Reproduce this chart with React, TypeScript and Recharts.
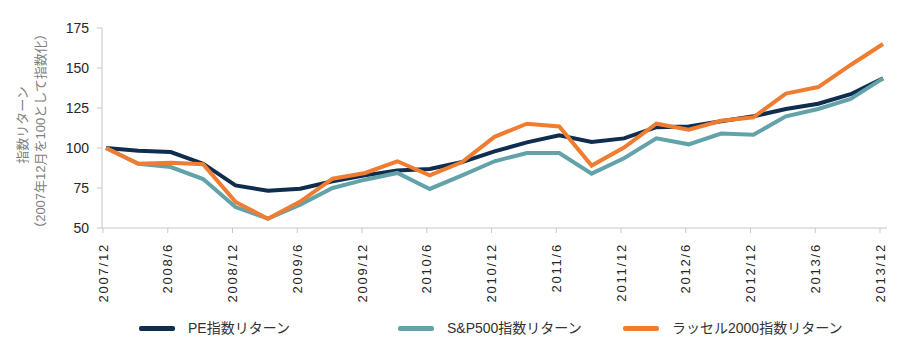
import React from "react";
import { LineChart, Line, XAxis, YAxis, Legend } from "recharts";

const FONT = "'Liberation Sans', 'Noto Sans CJK JP', sans-serif";

const quarters = [
  "2007/12", "2008/3", "2008/6", "2008/9", "2008/12", "2009/3", "2009/6", "2009/9",
  "2009/12", "2010/3", "2010/6", "2010/9", "2010/12", "2011/3", "2011/6", "2011/9",
  "2011/12", "2012/3", "2012/6", "2012/9", "2012/12", "2013/3", "2013/6", "2013/9",
  "2013/12",
];

const peIndex = [
  100, 98.3, 97.5, 90.2, 76.6, 73.3, 74.6, 79.2, 82.9, 86, 86.9, 91.2, 97.9, 103.5,
  107.9, 103.7, 106, 113, 113.5, 116.7, 119.8, 124.4, 127.7, 133.6, 143.5,
];

const sp500Index = [
  100, 90.2, 88.1, 80.6, 63.1, 55.8, 64.6, 75, 80.2, 84.4, 74.4, 82.9, 91.7, 96.9,
  96.9, 84, 93.6, 106, 102.3, 109, 108.3, 119.8, 124.4, 130.7, 143.5,
];

const russellIndex = [
  100, 90.2, 90.8, 89.8, 66.3, 55.8, 66.5, 80.8, 84.4, 91.7, 82.9, 91.2, 107, 115.2,
  113.5, 89, 100.3, 115.2, 111.5, 117, 119.2, 134, 138.1, 151.9, 165,
];

const yTicks = [50, 75, 100, 125, 150, 175];

const seriesNames = ["PE指数リターン", "S&P500指数リターン", "ラッセル2000指数リターン"];
const seriesColors = ["#0f2d4f", "#62a3a9", "#ef7d31"];

const data = quarters.map((q, i) => ({
  quarter: q,
  pe: peIndex[i],
  sp: sp500Index[i],
  russell: russellIndex[i],
}));

const XTick = (props: any) => {
  const { x, y, payload } = props;
  const tx = x - 3;
  return (
    <g>
      <line x1={tx} y1={y} x2={tx} y2={y + 5} stroke="#c8c8c8" strokeWidth={1} />
      <text
        transform={`translate(${tx},${y + 15}) rotate(-90)`}
        textAnchor="end"
        dominantBaseline="central"
        fontSize={13}
        letterSpacing={1.8}
        fill="#262626"
        fontFamily={FONT}
      >
        {payload.value}
      </text>
    </g>
  );
};

const YLabel = () => (
  <g fontFamily={FONT} fontSize={13} fill="#7f7f7f">
    <text transform="translate(22,125) rotate(-90)" textAnchor="middle" dominantBaseline="central">
      指数リターン
    </text>
    <text transform="translate(40,131) rotate(-90)" textAnchor="middle" dominantBaseline="central">
      （2007年12月を100として指数化）
    </text>
  </g>
);

const legendLeft = [139, 398, 623];

const renderLegend = () => (
  <div style={{ position: "relative", height: 55, fontFamily: FONT }}>
    {seriesNames.map((name, i) => (
      <div
        key={name}
        style={{
          position: "absolute",
          left: legendLeft[i],
          top: 21,
          display: "flex",
          alignItems: "center",
          whiteSpace: "nowrap",
        }}
      >
        <div
          style={{
            width: 36,
            height: 5,
            borderRadius: 2,
            background: seriesColors[i],
            marginRight: 13,
          }}
        />
        <span style={{ fontSize: 14, color: "#333333", lineHeight: "18px" }}>{name}</span>
      </div>
    ))}
  </div>
);

export default function App() {
  return (
    <div style={{ position: "absolute", left: 0, top: 0, background: "#fff" }}>
      <LineChart
        width={913}
        height={353}
        data={data}
        margin={{ top: 28, right: 26, left: 0, bottom: 0 }}
      >
        <XAxis
          dataKey="quarter"
          interval={1}
          height={70}
          padding={{ left: 4, right: 4 }}
          tickLine={false}
          tickSize={0}
          tickMargin={0}
          axisLine={{ stroke: "#c8c8c8" }}
          tick={<XTick />}
        />
        <YAxis
          width={102}
          domain={[50, 175]}
          ticks={yTicks}
          interval={0}
          tickSize={5}
          tickMargin={8}
          axisLine={{ stroke: "#c8c8c8" }}
          tickLine={{ stroke: "#c8c8c8" }}
          tick={{ fontSize: 14, fill: "#262626", fontFamily: FONT }}
          label={<YLabel />}
        />
        <Legend verticalAlign="bottom" height={55} content={renderLegend} />
        <Line
          dataKey="pe"
          name={seriesNames[0]}
          stroke={seriesColors[0]}
          strokeWidth={4}
          dot={false}
          type="linear"
          isAnimationActive={false}
        />
        <Line
          dataKey="sp"
          name={seriesNames[1]}
          stroke={seriesColors[1]}
          strokeWidth={4}
          dot={false}
          type="linear"
          isAnimationActive={false}
        />
        <Line
          dataKey="russell"
          name={seriesNames[2]}
          stroke={seriesColors[2]}
          strokeWidth={4}
          dot={false}
          type="linear"
          isAnimationActive={false}
        />
      </LineChart>
    </div>
  );
}
